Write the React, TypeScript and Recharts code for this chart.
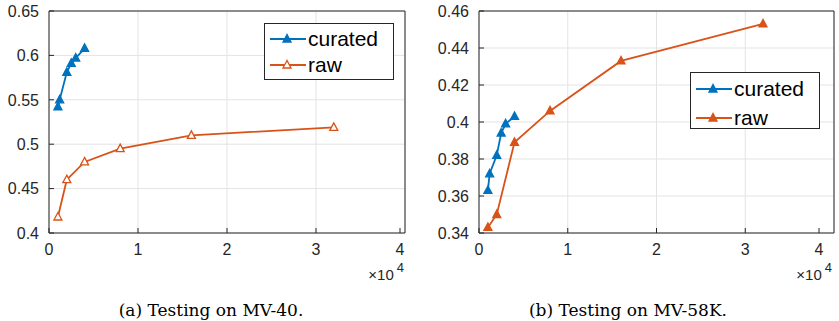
import React from "react";
import { LineChart, Line, XAxis, YAxis, CartesianGrid } from "recharts";

const BLUE = "#0072BD";
const ORANGE = "#D95319";
const INK = "#262626";

// x = number of training samples
const curatedX = [1000, 1200, 2000, 2500, 3000, 4000];
const rawX = [1000, 2000, 4000, 8000, 16000, 32000];

// (a) MV-40
const curatedA = [0.542, 0.55, 0.581, 0.591, 0.597, 0.608];
const rawA = [0.418, 0.46, 0.48, 0.495, 0.51, 0.519];

// (b) MV-58K
const curatedB = [0.363, 0.372, 0.382, 0.394, 0.399, 0.403];
const rawB = [0.343, 0.35, 0.389, 0.406, 0.433, 0.453];

const xTicks = [0, 10000, 20000, 30000, 40000];
const yTicksA = [0.4, 0.45, 0.5, 0.55, 0.6, 0.65];
const yTicksB = [0.34, 0.36, 0.38, 0.4, 0.42, 0.44, 0.46];

const toRows = (xs: number[], ys: number[], key: string) =>
  xs.map((x, i) => ({ x, [key]: ys[i] }));

const fmt = (v: number) => String(Number(v.toFixed(2)));

function Tri({ cx, cy, color, hollow }: any) {
  if (cx == null || cy == null) return null;
  return (
    <polygon
      points={`${cx},${cy - 4.5} ${cx - 4},${cy + 3} ${cx + 4},${cy + 3}`}
      fill={hollow ? "#fff" : color}
      stroke={color}
      strokeWidth={1.3}
    />
  );
}

const LeftTick = ({ x, y, payload }: any) => (
  <g>
    <line x1={x} x2={x + 5} y1={y} y2={y} stroke={INK} />
    <text x={x - 10} y={y} dy="0.36em" textAnchor="end" fontSize={16} fill={INK}>
      {fmt(payload.value)}
    </text>
  </g>
);
const RightTick = ({ x, y }: any) => <line x1={x} x2={x - 5} y1={y} y2={y} stroke={INK} />;
const BottomTick = ({ x, y, payload }: any) => (
  <g>
    <line x1={x} x2={x} y1={y} y2={y - 5} stroke={INK} />
    <text x={x} y={y + 16} dy="0.36em" textAnchor="middle" fontSize={16} fill={INK}>
      {payload.value / 10000}
    </text>
  </g>
);
const TopTick = ({ x, y }: any) => <line x1={x} x2={x} y1={y} y2={y + 5} stroke={INK} />;

function Panel({
  curated,
  raw,
  yTicks,
  width,
  leftW,
  rightW,
  rawHollow,
}: {
  curated: number[];
  raw: number[];
  yTicks: number[];
  width: number;
  leftW: number;
  rightW: number;
  rawHollow: boolean;
}) {
  const domain = [yTicks[0], yTicks[yTicks.length - 1]];
  return (
    <LineChart width={width} height={260} margin={{ top: 0, left: 0, right: 0, bottom: 0 }}
      style={{ fontFamily: "'Liberation Sans', Arial, sans-serif" }}>
      <CartesianGrid stroke="#e3e3e3" strokeWidth={1} />
      <XAxis type="number" dataKey="x" domain={[0, 40000]} ticks={xTicks} height={27} tickSize={0} tickMargin={0}
        axisLine={{ stroke: INK }} tickLine={false} tick={<BottomTick />} />
      <XAxis xAxisId="top" orientation="top" type="number" dataKey="x" domain={[0, 40000]} ticks={xTicks} height={11}
        tickSize={0} tickMargin={0} axisLine={{ stroke: INK }} tickLine={false} tick={<TopTick />} />
      <YAxis type="number" domain={domain} ticks={yTicks} width={leftW} tickSize={0} tickMargin={0}
        axisLine={{ stroke: INK }} tickLine={false} tick={<LeftTick />} />
      <YAxis yAxisId="right" orientation="right" type="number" domain={domain} ticks={yTicks} width={rightW}
        tickSize={0} tickMargin={0} axisLine={{ stroke: INK }} tickLine={false} tick={<RightTick />} />
      <Line data={toRows(curatedX, curated, "curated")} dataKey="curated" stroke={BLUE} strokeWidth={1.8}
        isAnimationActive={false}
        dot={(p: any) => <Tri key={p.key ?? p.index} cx={p.cx} cy={p.cy} color={BLUE} />} />
      <Line data={toRows(rawX, raw, "raw")} dataKey="raw" stroke={ORANGE} strokeWidth={1.8}
        isAnimationActive={false}
        dot={(p: any) => <Tri key={p.key ?? p.index} cx={p.cx} cy={p.cy} color={ORANGE} hollow={rawHollow} />} />
    </LineChart>
  );
}

function LegendBox({ left, top, rows, rawHollow }: { left: number; top: number; rows: number[]; rawHollow: boolean }) {
  const items = [
    { name: "curated", color: BLUE, hollow: false },
    { name: "raw", color: ORANGE, hollow: rawHollow },
  ];
  return (
    <div style={{ position: "absolute", left, top, width: 130, height: 57, border: `1px solid ${INK}`, background: "#fff", boxSizing: "border-box" }}>
      {items.map((it, i) => (
        <div key={it.name} style={{ position: "absolute", left: 4, top: rows[i] - 12, height: 24, display: "flex", alignItems: "center" }}>
          <svg width={38} height={24}>
            <line x1={1} x2={37} y1={12} y2={12} stroke={it.color} strokeWidth={1.8} />
            <Tri cx={18} cy={12} color={it.color} hollow={it.hollow} />
          </svg>
          <span style={{ fontFamily: "'Liberation Sans', Arial, sans-serif", fontSize: 21, color: "#000", marginLeft: 1 }}>{it.name}</span>
        </div>
      ))}
    </div>
  );
}

// exponent label at the right end of each x axis, and the sub-figure captions
function Annotations() {
  const sans = "'Liberation Sans', Arial, sans-serif";
  const serif = "'DejaVu Serif', 'Liberation Serif', serif";
  const sci = (right: number) => (
    <text x={right} y={280} textAnchor="end" fontFamily={sans} fontSize={15} fill={INK}>
      ×10<tspan dx={3} dy={-8} fontSize={13}>4</tspan>
    </text>
  );
  return (
    <svg width={839} height={321} style={{ position: "absolute", left: 0, top: 0, pointerEvents: "none" }}>
      {sci(404)}
      {sci(832)}
      <text x={211} y={316} textAnchor="middle" fontFamily={serif} fontSize={17} fill="#000">
        (a) Testing on MV-40.
      </text>
      <text x={628} y={316} textAnchor="middle" fontFamily={serif} fontSize={17} fill="#000">
        (b) Testing on MV-58K.
      </text>
    </svg>
  );
}

export default function App() {
  return (
    <div style={{ position: "absolute", left: 0, top: 0, width: 839, height: 321, background: "#fff", overflow: "hidden" }}>
      <div style={{ position: "absolute", left: 0, top: 0 }}>
        <Panel curated={curatedA} raw={rawA} yTicks={yTicksA} width={420} leftW={49} rightW={15} rawHollow={true} />
      </div>
      <div style={{ position: "absolute", left: 420, top: 0 }}>
        <Panel curated={curatedB} raw={rawB} yTicks={yTicksB} width={419} leftW={59} rightW={5} rawHollow={false} />
      </div>
      <LegendBox left={264} top={23} rows={[15, 41]} rawHollow={true} />
      <LegendBox left={690} top={72} rows={[16, 45]} rawHollow={false} />
      <Annotations />
    </div>
  );
}
